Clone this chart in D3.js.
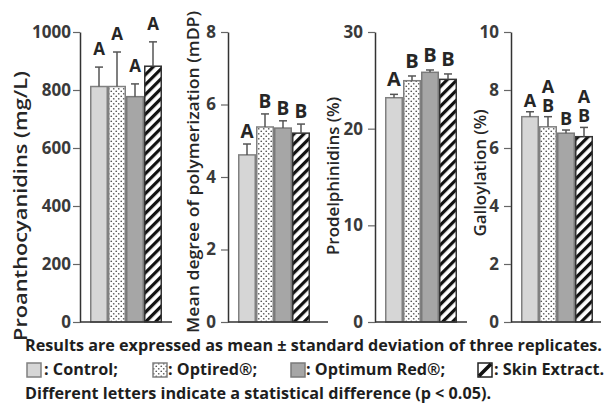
<!DOCTYPE html>
<html>
<head>
<meta charset="utf-8">
<script src="https://cdn.jsdelivr.net/npm/d3@7"></script>
<style>
  body { margin: 0; background: #fff; }
  svg { display: block; font-family: "Open Sans", "Noto Sans", sans-serif; }
</style>
</head>
<body>
<svg id="chart" width="605" height="403"></svg>
<script>
const categories = ["Control", "Optired®", "Optimum Red®", "Skin Extract"];

const proanthMean = [812, 812, 777, 882];
const proanthSd = [67, 119, 44, 84];
const proanthLetters = ["A", "A", "A", "A"];
const proanthTicks = [0, 200, 400, 600, 800, 1000];

const mdpMean = [4.61, 5.38, 5.35, 5.21];
const mdpSd = [0.30, 0.36, 0.20, 0.25];
const mdpLetters = ["A", "B", "B", "B"];
const mdpTicks = [0, 2, 4, 6, 8];

const prodelMean = [23.2, 24.96, 25.83, 25.1];
const prodelSd = [0.35, 0.49, 0.24, 0.56];
const prodelLetters = ["A", "B", "B", "B"];
const prodelTicks = [0, 10, 20, 30];

const gallMean = [7.08, 6.73, 6.51, 6.39];
const gallSd = [0.17, 0.35, 0.11, 0.32];
const gallLetters = [["A"], ["A", "B"], ["B"], ["A", "B"]];
const gallTicks = [0, 2, 4, 6, 8, 10];

const titles = ["Proanthocyanidins (mg/L)", "Mean degree of polymerization (mDP)", "Prodelphinidins (%)", "Galloylation (%)"];

const footLine1 = "Results are expressed as mean ± standard deviation of three replicates.";
const footLine3 = "Different letters indicate a statistical difference (p < 0.05).";
const legendLabels = [": Control;", ": Optired®;", ": Optimum Red®;", ": Skin Extract."];

// panel layout (pixel positions of each y axis, title etc.)
const panels = [
  { mean: proanthMean, sd: proanthSd, letters: proanthLetters.map((l) => [l]), ticks: proanthTicks, max: 1000,
    ax: 80, end: 172, title: { x: 20, y: 206, len: 270, size: 18 }, letterSize: 17, gap: 12 },
  { mean: mdpMean, sd: mdpSd, letters: mdpLetters.map((l) => [l]), ticks: mdpTicks, max: 8,
    ax: 228, end: 328, title: { x: 192, y: 172, len: 322, size: 17 }, letterSize: 19, gap: 6 },
  { mean: prodelMean, sd: prodelSd, letters: prodelLetters.map((l) => [l]), ticks: prodelTicks, max: 30,
    ax: 375, end: 467, title: { x: 333, y: 176, len: 158, size: 16 }, letterSize: 20, gap: 8 },
  { mean: gallMean, sd: gallSd, letters: gallLetters, ticks: gallTicks, max: 10,
    ax: 511, end: 601, title: { x: 480, y: 173, len: 127, size: 16 }, letterSize: 18, gap: 5 }
];

const TOP = 32, BOTTOM = 322;
const INK = "#333";
const TEXT = "#262626";

const svg = d3.select("#chart");

// ── Patterns ──────────────────────────────────────────────────────────────
const defs = svg.append("defs");
const dots = defs.append("pattern").attr("id", "dots")
  .attr("patternUnits", "userSpaceOnUse").attr("width", 5).attr("height", 5);
dots.append("rect").attr("width", 5).attr("height", 5).attr("fill", "#fff");
dots.append("circle").attr("cx", 1.25).attr("cy", 1.25).attr("r", 0.85).attr("fill", "#555");
dots.append("circle").attr("cx", 3.75).attr("cy", 3.75).attr("r", 0.85).attr("fill", "#555");

const hatch = defs.append("pattern").attr("id", "hatch")
  .attr("patternUnits", "userSpaceOnUse").attr("width", 7).attr("height", 7)
  .attr("patternTransform", "rotate(45)");
hatch.append("rect").attr("width", 7).attr("height", 7).attr("fill", "#fff");
hatch.append("rect").attr("width", 3.2).attr("height", 7).attr("fill", "#111");

const fills = ["#d6d6d6", "url(#dots)", "#a6a6a6", "url(#hatch)"];
const strokes = ["#808080", "#808080", "#7a7a7a", "#333"];

// scale font-size so the text's natural width equals target
function fitText(sel, target) {
  const base = parseFloat(sel.attr("font-size"));
  const w = sel.node().getComputedTextLength();
  const size = +(base * target / w).toFixed(2);
  sel.attr("font-size", size);
  return size;
}

// ── Panels ────────────────────────────────────────────────────────────────
panels.forEach((p, pi) => {
  const y = d3.scaleLinear().domain([0, p.max]).range([BOTTOM, TOP]);
  const x = d3.scaleBand().domain(categories).range([p.ax + 10, p.ax + 82]).padding(0);
  const g = svg.append("g");

  const rows = categories.map((c, i) => ({ c, i, mean: p.mean[i], sd: p.sd[i], letters: p.letters[i] }));

  // bars
  g.selectAll("rect.bar").data(rows).join("rect")
    .attr("class", "bar")
    .attr("x", (d) => x(d.c) + 0.75)
    .attr("width", x.bandwidth() - 1.5)
    .attr("y", (d) => y(d.mean))
    .attr("height", (d) => y(0) - y(d.mean))
    .attr("fill", (d) => fills[d.i])
    .attr("stroke", (d) => strokes[d.i])
    .attr("stroke-width", 1.5);

  // upper error bars
  const cx = (d) => x(d.c) + x.bandwidth() / 2;
  g.selectAll("line.err").data(rows).join("line")
    .attr("class", "err")
    .attr("x1", cx).attr("x2", cx)
    .attr("y1", (d) => y(d.mean)).attr("y2", (d) => y(d.mean + d.sd))
    .attr("stroke", "#555").attr("stroke-width", 1.5);
  g.selectAll("line.cap").data(rows).join("line")
    .attr("class", "cap")
    .attr("x1", (d) => cx(d) - 4).attr("x2", (d) => cx(d) + 4)
    .attr("y1", (d) => y(d.mean + d.sd)).attr("y2", (d) => y(d.mean + d.sd))
    .attr("stroke", "#555").attr("stroke-width", 1.5);

  // significance letters (stacked bottom-up)
  rows.forEach((d) => {
    const n = d.letters.length;
    d.letters.forEach((l, k) => {
      g.append("text")
        .attr("x", cx(d))
        .attr("y", y(d.mean + d.sd) - p.gap - (n - 1 - k) * 19)
        .attr("text-anchor", "middle")
        .attr("font-size", p.letterSize)
        .attr("font-weight", 700)
        .attr("fill", TEXT)
        .text(l);
    });
  });

  // y axis
  const yAxis = g.append("g")
    .attr("transform", `translate(${p.ax},0)`)
    .call(d3.axisLeft(y).tickValues(p.ticks).tickFormat(d3.format("d"))
      .tickSize(7).tickPadding(pi === 0 ? 2 : 5).tickSizeOuter(0));
  yAxis.select(".domain").attr("stroke", INK).attr("stroke-width", 1.5);
  yAxis.selectAll(".tick line").attr("stroke", "#666").attr("stroke-width", 1.2);
  yAxis.selectAll(".tick text")
    .attr("font-size", 17).attr("font-weight", 700).attr("fill", "#3a3a3a")
    .attr("font-family", "'Open Sans', sans-serif");

  // x baseline
  g.append("line")
    .attr("x1", p.ax).attr("x2", p.end)
    .attr("y1", y(0)).attr("y2", y(0))
    .attr("stroke", INK).attr("stroke-width", 1.5);

  // y title
  g.append("text")
    .attr("transform", `translate(${p.title.x},${p.title.y}) rotate(-90)`)
    .attr("text-anchor", "middle")
    .attr("dominant-baseline", "central")
    .attr("font-size", p.title.size)
    .attr("font-weight", 600)
    .attr("textLength", p.title.len)
    .attr("lengthAdjust", "spacingAndGlyphs")
    .attr("fill", TEXT)
    .text(titles[pi]);
});

// ── Footer ────────────────────────────────────────────────────────────────
const foot = svg.append("g").attr("font-weight", 700).attr("fill", "#1e1e1e");

const l1 = foot.append("text").attr("x", 25).attr("y", 351).attr("font-size", 16).text(footLine1);
const footSize = fitText(l1, 577);
foot.append("text").attr("x", 25).attr("y", 399).attr("font-size", footSize).text(footLine3);

const legendItems = [
  { box: 27, text: 44 },
  { box: 153, text: 168 },
  { box: 291, text: 306 },
  { box: 478, text: 494 }
];
legendItems.forEach((it, i) => {
  if (i === 3) {
    foot.append("rect").attr("x", it.box).attr("y", 363).attr("width", 14).attr("height", 14)
      .attr("fill", "#fff").attr("stroke", "#222").attr("stroke-width", 1.5);
    foot.append("line").attr("x1", it.box + 1).attr("y1", 376).attr("x2", it.box + 13).attr("y2", 364)
      .attr("stroke", "#111").attr("stroke-width", 3.5);
  } else {
    foot.append("rect").attr("x", it.box).attr("y", 363).attr("width", 14).attr("height", 14)
      .attr("fill", fills[i]).attr("stroke", strokes[i]).attr("stroke-width", 1.5);
  }
  foot.append("text").attr("x", it.text).attr("y", 375).attr("font-size", footSize).text(legendLabels[i]);
});
</script>
</body>
</html>
